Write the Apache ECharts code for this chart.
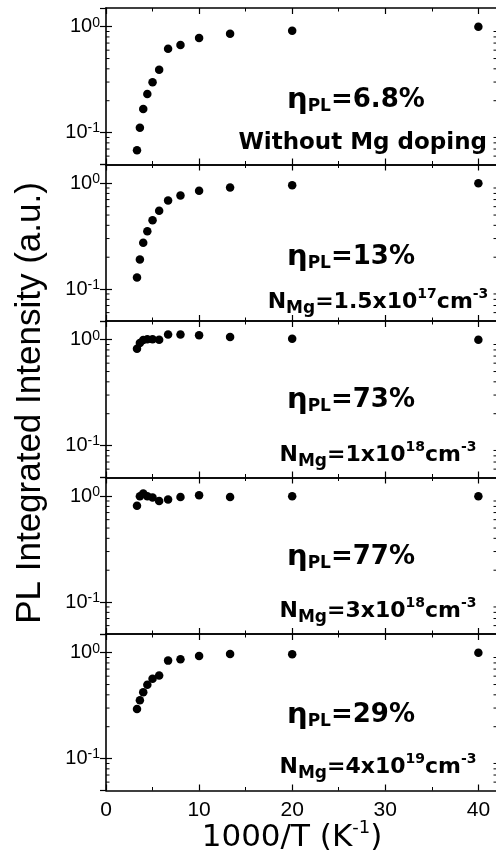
<!DOCTYPE html>
<html>
<head>
<meta charset="utf-8">
<script src="https://cdn.jsdelivr.net/npm/echarts@6/dist/echarts.min.js"></script>
<style>html,body{margin:0;padding:0;background:#fff;}#c{width:496px;height:864px;}</style>
</head>
<body>
<div id="c"></div>
<script>
// 1000/T values (K^-1)
const xVals = [3.33, 3.64, 4.0, 4.44, 5.0, 5.71, 6.67, 8.0, 10.0, 13.33, 20.0, 40.0];
// normalized PL integrated intensity per sample
const seriesNoMg   = [0.068, 0.111, 0.167, 0.232, 0.299, 0.391, 0.620, 0.672, 0.782, 0.859, 0.917, 1.0];
const seriesMg15e17 = [0.129, 0.190, 0.274, 0.352, 0.447, 0.550, 0.687, 0.765, 0.847, 0.910, 0.957, 1.0];
const seriesMg1e18 = [0.82, 0.93, 0.99, 1.01, 1.01, 1.00, 1.12, 1.12, 1.10, 1.06, 1.02, 1.0];
const seriesMg3e18 = [0.81, 1.00, 1.06, 1.00, 0.97, 0.90, 0.93, 0.98, 1.02, 0.98, 1.00, 1.0];
const seriesMg4e19 = [0.294, 0.355, 0.422, 0.498, 0.567, 0.608, 0.841, 0.867, 0.930, 0.970, 0.965, 1.0];
const allSeries = [seriesNoMg, seriesMg15e17, seriesMg1e18, seriesMg3e18, seriesMg4e19];
// annotation texts
const etaValues = ['6.8%', '13%', '73%', '77%', '29%'];
const sampleLabels = [
  'Without Mg doping',
  'N{sub|Mg}=1.5x10{sup|17}cm{sup|-3}',
  'N{sub|Mg}=1x10{sup|18}cm{sup|-3}',
  'N{sub|Mg}=3x10{sup|18}cm{sup|-3}',
  'N{sub|Mg}=4x10{sup|19}cm{sup|-3}'
];
// axis constants
const xMin = 0, xMax = 42, xInterval = 10;
const yMin = 0.05, yMax = 1.5;
const xTickLabels = ['0', '10', '20', '30', '40'];
const minorTickVals = [0.06, 0.07, 0.08, 0.09, 0.2, 0.3, 0.4, 0.5, 0.6, 0.7, 0.8, 0.9];

const chart = echarts.init(document.getElementById('c'), null, {renderer: 'canvas'});

const LEFT = 106, WIDTH = 391, TOP0 = 8, STEP = 156.5, H = 156.5;
const axisLine = {show: true, lineStyle: {color: '#000', width: 1.6}};
const grids = [], xAxes = [], yAxes = [], series = [], graphics = [];

const BF = 'DejaVu Sans';
const annRich = {
  m: {fontFamily: BF, fontWeight: 'bold', fontSize: 26, lineHeight: 30, color: '#000'},
  w: {fontFamily: BF, fontWeight: 'bold', fontSize: 23, lineHeight: 30, color: '#000'},
  n: {fontFamily: BF, fontWeight: 'bold', fontSize: 22, lineHeight: 30, color: '#000'},
  e: {fontFamily: 'DejaVu Sans', fontWeight: 'bold', fontSize: 29, lineHeight: 30, color: '#000'},
  sub: {fontFamily: BF, fontWeight: 'bold', fontSize: 17, lineHeight: 16, verticalAlign: 'bottom', color: '#000'},
  sup: {fontFamily: BF, fontWeight: 'bold', fontSize: 14, lineHeight: 22, verticalAlign: 'top', color: '#000'}
};
const etaY = [100, 257, 400, 557, 715];
const sampY = [143, 302, 455, 611, 767];

for (let i = 0; i < 5; i++) {
  const top = TOP0 + STEP * i;
  grids.push({left: LEFT, top: top, width: WIDTH, height: H, outerBoundsMode: 'none', containLabel: false});
  const last = i === 4;
  xAxes.push({
    type: 'value', gridIndex: i, position: 'bottom', min: xMin, max: xMax, interval: xInterval,
    axisLine: axisLine,
    axisTick: {show: true, inside: true, length: 6, lineStyle: {color: '#000', width: 1.2}},
    minorTick: {show: true, splitNumber: 2, length: 3.5, lineStyle: {color: '#000', width: 1}},
    splitLine: {show: false},
    axisLabel: {show: last, margin: 9, color: '#000', fontFamily: 'Liberation Sans', fontSize: 21,
      formatter: v => (xTickLabels.indexOf(String(v)) >= 0 ? String(v) : '')}
  });
  xAxes.push({
    type: 'value', gridIndex: i, position: 'top', min: xMin, max: xMax, interval: xInterval,
    axisLine: axisLine,
    axisTick: {show: true, inside: true, length: 6, lineStyle: {color: '#000', width: 1.2}},
    minorTick: {show: true, splitNumber: 2, length: 3.5, lineStyle: {color: '#000', width: 1}},
    splitLine: {show: false}, axisLabel: {show: false}
  });
  const yFmt = v => {
    const e = Math.log10(v);
    if (Math.abs(e - Math.round(e)) > 1e-6) return '';
    return '{m|10}{sup|' + Math.round(e) + '}';
  };
  yAxes.push({
    type: 'log', logBase: 10, gridIndex: i, position: 'left', min: yMin, max: yMax,
    axisLine: axisLine,
    axisTick: {show: true, inside: true, length: 6, lineStyle: {color: '#000', width: 1.2}},
    splitLine: {show: false},
    axisLabel: {show: true, margin: 6, showMinLabel: false, showMaxLabel: false, formatter: yFmt,
      rich: {
        m: {fontFamily: 'Liberation Sans', fontSize: 20, lineHeight: 22, color: '#000'},
        sup: {fontFamily: 'Liberation Sans', fontSize: 14, lineHeight: 10, verticalAlign: 'top', color: '#000'}
      }}
  });
  yAxes.push({
    type: 'log', logBase: 10, gridIndex: i, position: 'right', min: yMin, max: yMax,
    axisLine: {show: false},
    axisTick: {show: true, inside: true, length: 6, lineStyle: {color: '#000', width: 1.2}},
    splitLine: {show: false}, axisLabel: {show: false}
  });
  series.push({
    type: 'scatter', xAxisIndex: 2 * i, yAxisIndex: 2 * i,
    data: xVals.map((x, k) => [x, allSeries[i][k]]),
    symbol: 'circle', symbolSize: 8.5, itemStyle: {color: '#000', opacity: 1}, silent: true
  });
  series.push({
    type: 'custom', xAxisIndex: 2 * i, yAxisIndex: 2 * i, clip: false, silent: true,
    data: minorTickVals.map(v => [xMin, v]),
    renderItem: (params, api) => {
      const v = api.value(1);
      const pL = api.coord([xMin, v]);
      const pR = api.coord([xMax, v]);
      return {type: 'group', children: [
        {type: 'line', shape: {x1: pL[0], y1: pL[1], x2: pL[0] + 3.5, y2: pL[1]}, style: {stroke: '#000', lineWidth: 1}},
        {type: 'line', shape: {x1: pR[0], y1: pR[1], x2: pR[0] - 3.5, y2: pR[1]}, style: {stroke: '#000', lineWidth: 1}}
      ]};
    }
  });
  graphics.push({
    type: 'text', x: 287, y: etaY[i], silent: true,
    style: {text: '{e|η}{sub|PL}{m|=' + etaValues[i] + '}', rich: annRich, textAlign: 'left', textVerticalAlign: 'middle',
      fontFamily: BF, fontWeight: 'bold', fontSize: 26, fill: '#000'}
  });
  if (i === 0) {
    graphics.push({
      type: 'text', x: 487, y: sampY[i], silent: true,
      style: {text: '{w|' + sampleLabels[i] + '}', rich: annRich, textAlign: 'right', textVerticalAlign: 'middle',
        fontFamily: BF, fontWeight: 'bold', fontSize: 23, fill: '#000'}
    });
  } else {
    const t = sampleLabels[i].replace(/^N/, '{n|N}').replace(/\}=([^{]*)\{/, '}{n|=$1}{').replace(/\}cm\{/, '}{n|cm}{');
    graphics.push({
      type: 'text', x: 378, y: sampY[i], silent: true,
      style: {text: t, rich: annRich, textAlign: 'center', textVerticalAlign: 'middle',
        fontFamily: BF, fontWeight: 'bold', fontSize: 22, fill: '#000'}
    });
  }
}

graphics.push({
  type: 'text', x: 30, y: 403, rotation: Math.PI / 2, silent: true,
  style: {text: 'PL Integrated Intensity (a.u.)', textAlign: 'center', textVerticalAlign: 'middle',
    fontFamily: 'Liberation Sans', fontSize: 35, fill: '#000'}
});
graphics.push({
  type: 'text', x: 292, y: 838, silent: true,
  style: {text: '{m|1000/T (K}{sup|-1}{m|)}', textAlign: 'center', textVerticalAlign: 'middle',
    rich: {
      m: {fontFamily: 'DejaVu Sans', fontSize: 31, lineHeight: 38, color: '#000'},
      sup: {fontFamily: 'DejaVu Sans', fontSize: 18, lineHeight: 26, verticalAlign: 'top', color: '#000'}
    },
    fontFamily: 'DejaVu Sans', fontSize: 31, fill: '#000'}
});

chart.setOption({
  animation: false,
  backgroundColor: '#fff',
  grid: grids, xAxis: xAxes, yAxis: yAxes, series: series, graphic: graphics
});
</script>
</body>
</html>
